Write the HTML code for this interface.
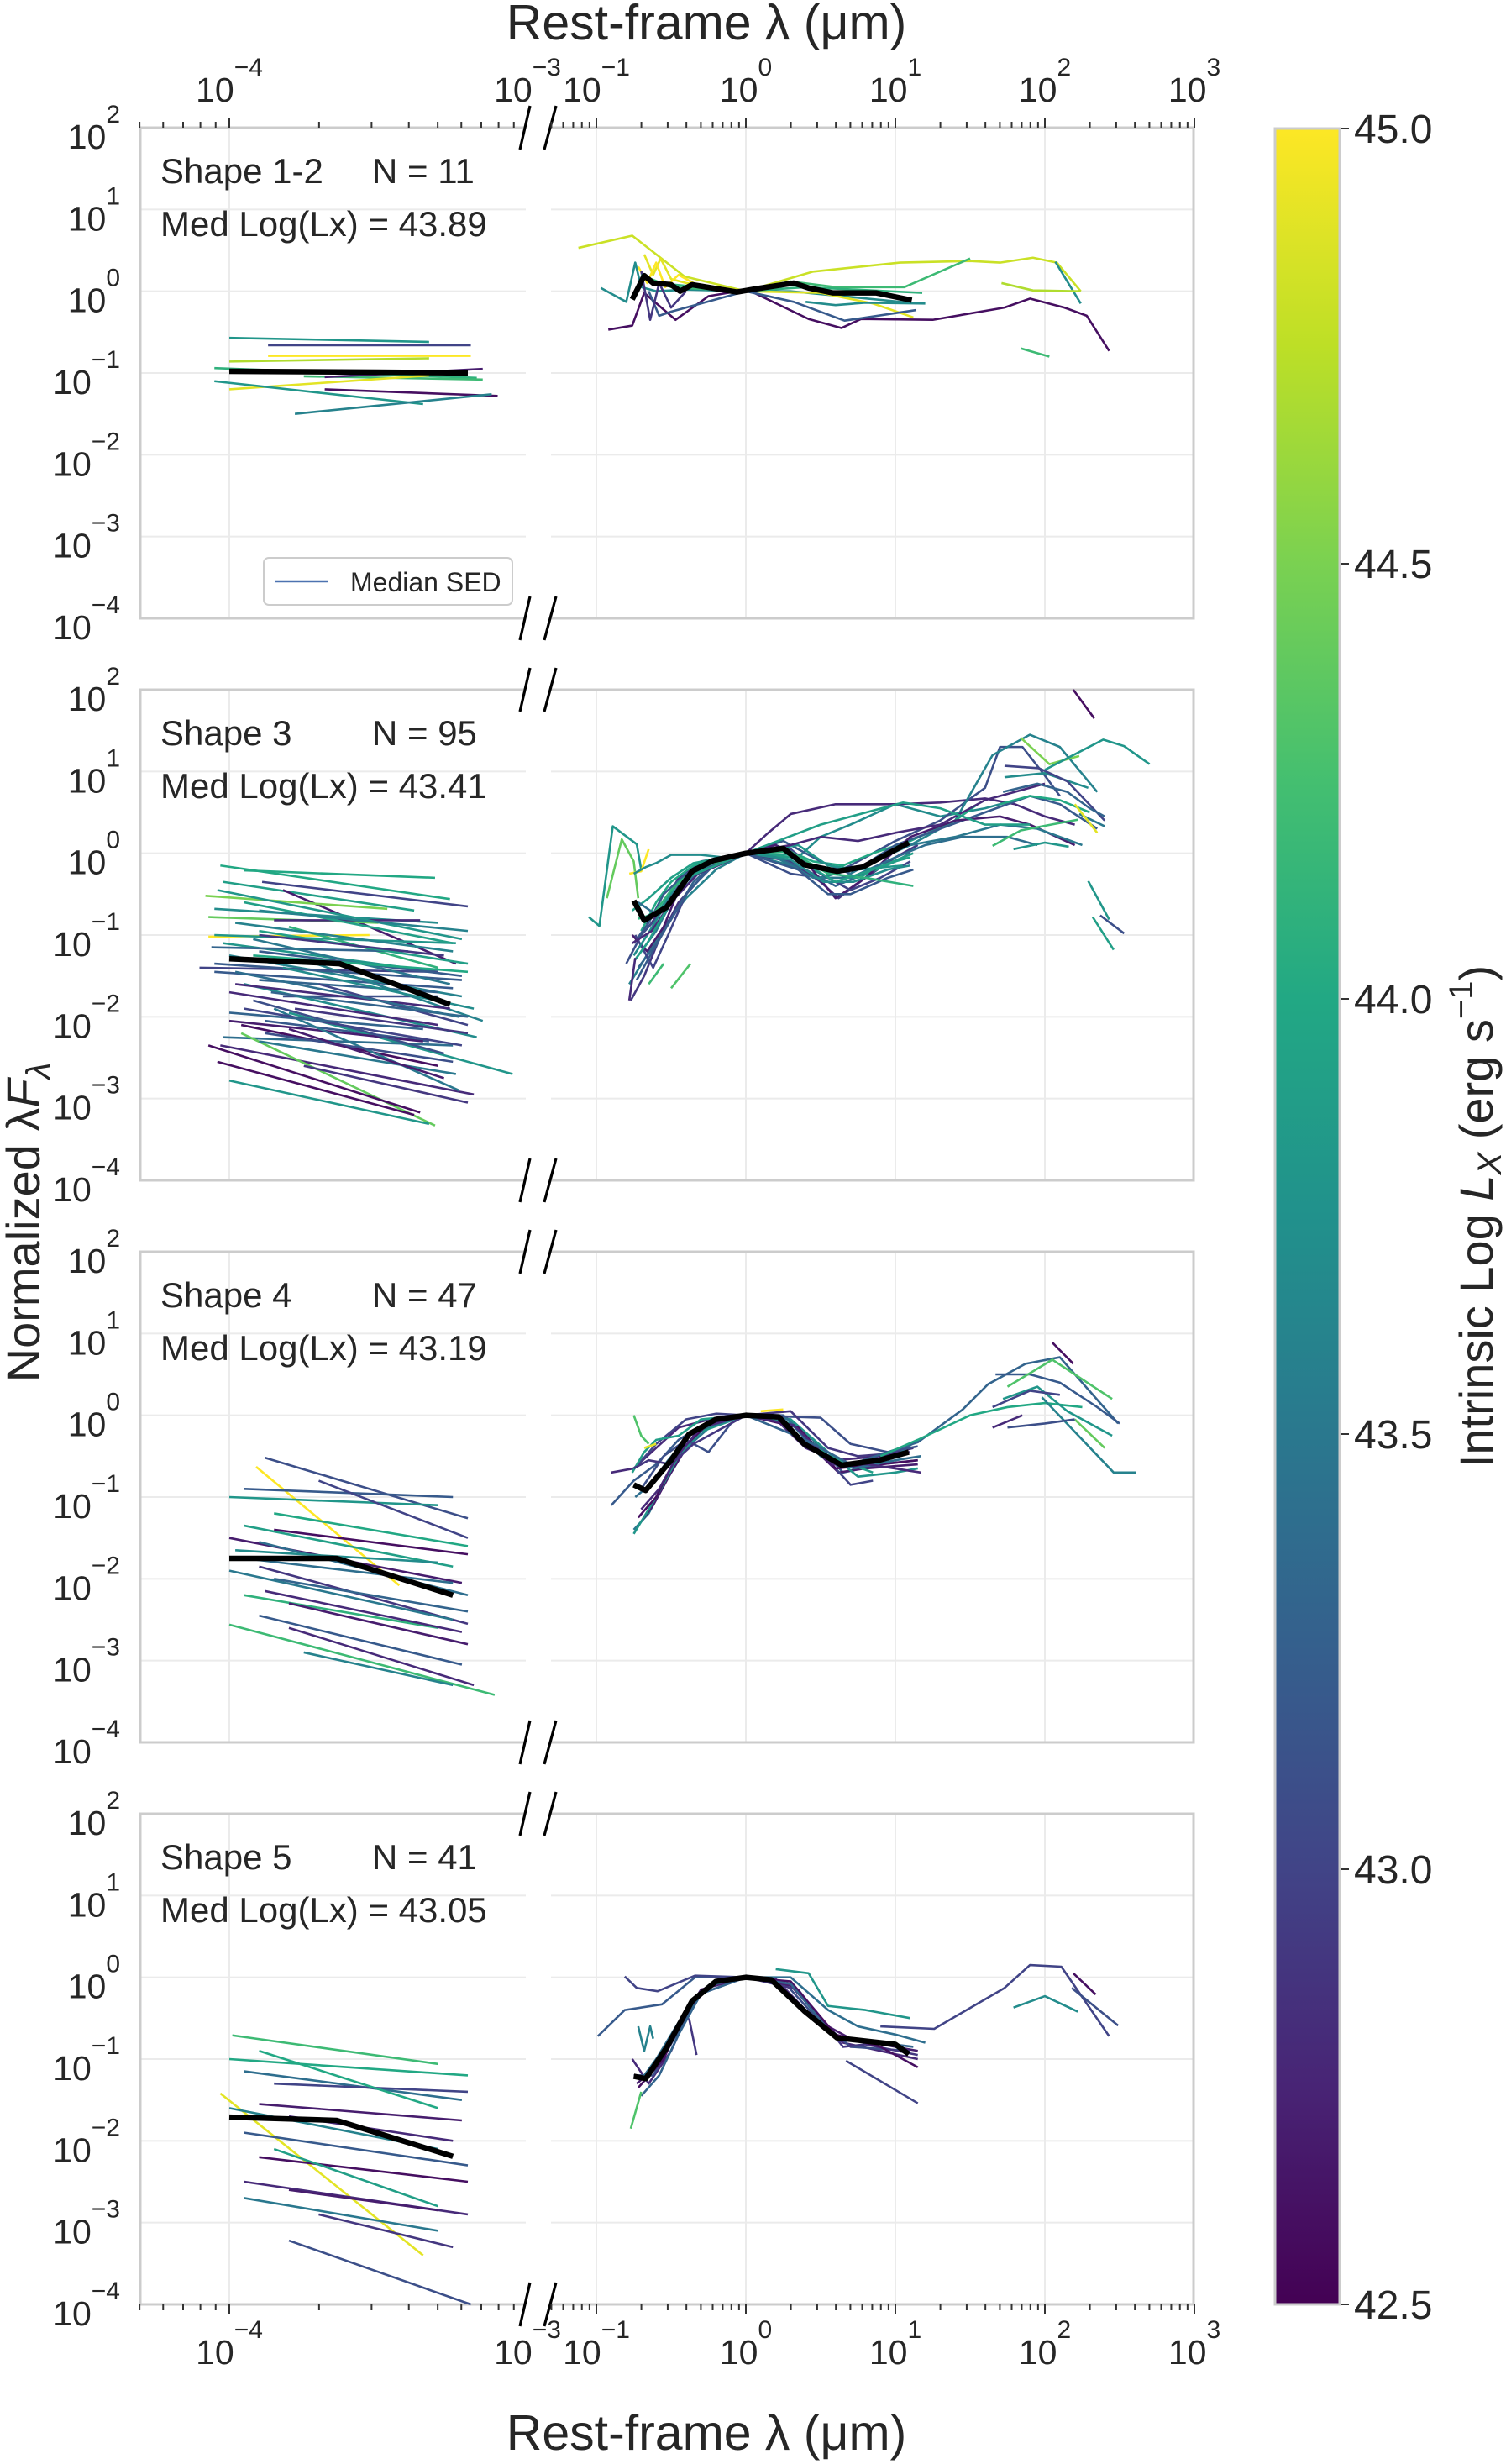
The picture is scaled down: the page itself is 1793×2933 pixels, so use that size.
<!DOCTYPE html>
<html><head><meta charset="utf-8">
<style>
html,body{margin:0;padding:0;background:#fff;}
svg{display:block;font-family:"Liberation Sans",Arial,sans-serif;}
</style></head>
<body>
<svg id="fig" width="1793" height="2933" viewBox="0 0 1793 2933" xmlns="http://www.w3.org/2000/svg">
<defs>
<linearGradient id="vir" x1="0" y1="1" x2="0" y2="0">
<stop offset="0" stop-color="#440154"/><stop offset="0.1" stop-color="#482475"/><stop offset="0.2" stop-color="#414487"/><stop offset="0.3" stop-color="#355f8d"/><stop offset="0.4" stop-color="#2a788e"/><stop offset="0.5" stop-color="#21918c"/><stop offset="0.6" stop-color="#22a884"/><stop offset="0.7" stop-color="#44bf70"/><stop offset="0.8" stop-color="#7ad151"/><stop offset="0.9" stop-color="#bddf26"/><stop offset="1" stop-color="#fde725"/>
</linearGradient>
</defs>
</svg>
<script>
// ---------- data ----------
const panelNames = ["Shape 1-2","Shape 3","Shape 4","Shape 5"];
const panelN = ["N = 11","N = 95","N = 47","N = 41"];
const panelMed = ["Med Log(Lx) = 43.89","Med Log(Lx) = 43.41","Med Log(Lx) = 43.19","Med Log(Lx) = 43.05"];
const yTickExps = [2,1,0,-1,-2,-3,-4];
const xLeftTickExps = [-4,-3];
const xRightTickExps = [-1,0,1,2,3];
const cbarTicks = [45.0,44.5,44.0,43.5,43.0,42.5];

// X-ray segments: [logLx, logλ0, logF0, logλ1, logF1]
const xray1 = [
[43.8,-4.0,-0.57,-3.33,-0.62],[43.0,-3.87,-0.66,-3.19,-0.66],[45.0,-3.87,-0.79,-3.19,-0.79],
[44.7,-4.0,-0.86,-3.33,-0.82],[44.1,-4.05,-0.94,-3.17,-1.06],[44.2,-3.75,-1.04,-3.15,-1.08],
[44.9,-4.0,-1.2,-3.33,-1.03],[42.6,-3.68,-1.2,-3.1,-1.28],[43.8,-4.05,-1.1,-3.35,-1.38],
[43.6,-3.78,-1.5,-3.12,-1.26],[42.7,-3.68,-1.05,-3.15,-0.95]];
const xray2 = [
[44.0,-4.03,-0.15,-3.26,-0.56],[44.0,-3.95,-0.21,-3.31,-0.3],[43.0,-3.89,-0.35,-3.2,-0.65],
[43.9,-4.02,-0.35,-3.38,-0.7],[42.7,-3.82,-0.45,-3.24,-1.35],[44.5,-4.08,-0.52,-3.47,-0.68],
[43.7,-4.05,-0.68,-3.3,-0.85],[44.4,-4.07,-0.78,-3.5,-0.85],[42.8,-3.85,-0.82,-3.36,-0.82],
[45.0,-4.07,-1.02,-3.53,-1.0],[43.8,-4.05,-1.0,-3.24,-1.1],[43.8,-4.02,-1.1,-3.3,-1.45],
[43.0,-4.1,-1.4,-3.3,-1.45],[43.2,-4.05,-1.45,-3.25,-1.65],[43.6,-4.0,-1.25,-3.22,-1.75],
[43.3,-3.9,-1.55,-3.3,-1.7],[43.1,-3.82,-1.75,-3.3,-1.75],[43.7,-3.95,-1.6,-3.17,-2.25],
[42.9,-3.78,-1.9,-3.2,-2.2],[43.2,-3.88,-2.05,-3.33,-2.3],[43.8,-3.8,-1.95,-3.05,-2.7],
[42.7,-4.0,-2.05,-3.35,-2.3],[42.6,-3.96,-2.1,-3.3,-2.6],[43.4,-4.02,-2.25,-3.25,-2.35],
[42.8,-4.03,-2.35,-3.18,-2.95],[44.4,-3.96,-2.2,-3.31,-3.33],[42.6,-4.07,-2.35,-3.36,-3.17],
[42.6,-4.04,-2.55,-3.38,-3.2],[43.8,-4.0,-2.78,-3.33,-3.31],[43.5,-3.85,-1.9,-3.23,-2.9],
[43.6,-3.75,-1.3,-3.15,-2.05],[43.9,-3.95,-0.6,-3.25,-1.1],[43.2,-3.9,-1.2,-3.22,-1.5],
[43.0,-3.7,-1.6,-3.2,-2.1],[43.5,-3.9,-2.3,-3.24,-2.7],[44.1,-3.8,-0.9,-3.3,-1.4],
[43.1,-3.92,-1.8,-3.28,-2.45],[42.9,-3.75,-2.6,-3.2,-3.05],[43.3,-4.06,-1.15,-3.4,-1.2],
[42.8,-3.98,-1.6,-3.26,-1.9],[43.9,-3.9,-0.95,-3.2,-1.35],
[43.2,-4.05,-1.35,-3.22,-1.55],[43.6,-3.98,-0.85,-3.25,-1.2],[42.9,-3.9,-1.0,-3.28,-1.25],
[43.8,-4.04,-0.45,-3.22,-1.05],[43.3,-3.86,-1.7,-3.2,-2.0],[43.0,-3.95,-1.9,-3.22,-2.35],
[43.7,-3.82,-1.4,-3.18,-1.9],[42.8,-4.0,-1.7,-3.3,-2.1],[43.5,-3.92,-1.05,-3.26,-1.6],
[43.1,-3.88,-2.2,-3.25,-2.55],[44.0,-3.92,-1.25,-3.2,-1.45],[43.4,-3.98,-1.45,-3.23,-2.0],
[42.7,-3.8,-2.15,-3.28,-2.75],[43.6,-3.9,-0.7,-3.2,-0.95],[43.3,-4.0,-1.95,-3.35,-2.15]];
const xray3 = [
[43.1,-3.88,-0.52,-3.2,-1.26],[45.0,-3.91,-0.63,-3.43,-2.08],[43.2,-3.95,-0.9,-3.25,-1.0],
[43.8,-4.0,-1.0,-3.3,-1.1],[44.0,-3.85,-1.2,-3.2,-1.6],[43.9,-3.95,-1.35,-3.25,-1.85],
[42.7,-4.0,-1.5,-3.22,-2.05],[43.4,-3.9,-1.55,-3.2,-2.2],[43.7,-3.98,-1.65,-3.3,-1.8],
[42.9,-3.9,-1.85,-3.2,-2.55],[43.3,-3.85,-2.0,-3.2,-2.4],[44.1,-3.95,-2.2,-3.3,-2.6],
[42.7,-3.8,-2.3,-3.2,-2.8],[43.5,-4.0,-1.9,-3.25,-2.5],[43.2,-3.9,-2.45,-3.22,-3.05],
[42.8,-3.8,-2.6,-3.18,-3.3],[44.2,-4.0,-2.56,-3.11,-3.42],[43.6,-3.75,-2.9,-3.25,-3.3],
[42.6,-3.85,-1.4,-3.2,-1.7],[43.0,-3.7,-0.8,-3.2,-1.5],[43.4,-3.95,-1.75,-3.25,-2.05],
[42.8,-3.88,-2.15,-3.22,-2.65]];
const xray4 = [
[44.2,-3.99,-0.71,-3.3,-1.06],[44.0,-4.0,-1.0,-3.2,-1.2],[43.4,-3.95,-1.15,-3.22,-1.5],
[43.0,-3.85,-1.3,-3.2,-1.4],[44.9,-4.03,-1.42,-3.35,-3.4],[42.7,-3.9,-1.55,-3.22,-1.75],
[43.6,-4.0,-1.6,-3.3,-2.1],[42.8,-3.8,-1.7,-3.25,-2.0],[43.2,-3.95,-1.9,-3.2,-2.3],
[42.6,-3.9,-2.2,-3.2,-2.5],[43.9,-3.85,-2.1,-3.3,-2.8],[42.8,-3.95,-2.5,-3.2,-2.9],
[42.7,-3.8,-2.6,-3.3,-2.85],[43.5,-3.95,-2.7,-3.3,-3.1],[43.1,-3.8,-3.22,-3.19,-4.0],
[42.9,-3.7,-2.9,-3.25,-3.3],[44.0,-3.9,-0.9,-3.3,-1.6]];
const xrayMedian = [
[-4.0,-0.98,-3.5,-0.99,-3.2,-1.0],
[-4.0,-1.29,-3.63,-1.35,-3.26,-1.85],
[-4.0,-1.75,-3.64,-1.75,-3.25,-2.2],
[-4.0,-1.71,-3.64,-1.75,-3.25,-2.19]];

// UV-to-FIR SEDs: [logLx, logλ, logF, logλ, logF, ...]
const sed1 = [
[44.8,-1.12,0.53,-0.76,0.68,-0.41,0.18,0,0,0.45,0.24,1.03,0.35,1.5,0.37,1.7,0.35,1.92,0.41,2.08,0.35,2.24,0.0],
[42.6,-0.92,-0.47,-0.76,-0.42,-0.68,-0.02,-0.47,-0.35,-0.25,-0.06,0.01,0.02,0.42,-0.34,0.64,-0.45,0.77,-0.34,1.25,-0.35,1.73,-0.2,1.9,-0.09,2.13,-0.2,2.28,-0.3,2.43,-0.73],
[43.7,-0.97,0.04,-0.8,-0.13,-0.74,0.35,-0.7,0.05,-0.6,0.0,-0.4,0.02,0,0,0.3,0.0,1.15,-0.15],
[44.9,-0.68,0.45,-0.62,0.2,-0.57,0.4,-0.5,0.15,-0.4,0.1,0,0,0.5,-0.02,0.85,-0.15,1.12,-0.32],
[45.0,-0.72,0.3,-0.66,0.1,-0.6,0.35,-0.54,0.05,-0.45,0.2,-0.3,0.05],
[43.2,-0.65,0.0,-0.58,-0.3,-0.5,-0.25,0,0,0.32,-0.13,0.66,-0.36,1.14,-0.23],
[42.9,-0.7,0.25,-0.64,-0.35,-0.58,0.1,-0.5,-0.2,-0.4,0.0],
[44.2,-0.7,0.2,-0.5,0.05,0,0,0.3,0.12,0.6,0.05,1.06,0.05,1.5,0.4],
[44.1,-0.6,0.1,0,0,0.4,0.05,1.18,-0.02],
[43.7,0.4,-0.13,0.6,-0.17,0.8,-0.14,1.2,-0.15],
[44.2,1.84,-0.7,2.03,-0.8],
[43.7,2.07,0.36,2.24,-0.15],
[44.7,1.71,0.1,1.92,0.01,2.24,0.0]];
const sed2 = [
[43.8,-1.05,-0.78,-0.98,-0.89,-0.89,0.33,-0.73,0.11,-0.7,-0.2],
[44.4,-0.93,-0.55,-0.83,0.17,-0.75,-0.1,-0.72,-0.55],
[45.0,-0.78,-0.25,-0.7,-0.22,-0.65,0.05],
[43.7,-0.75,-0.25,-0.67,-0.17,-0.6,-0.12,-0.5,-0.02,-0.3,-0.02,-0.15,-0.05,0,0,0.2,0.05,0.35,-0.05,0.5,0.2,0.7,0.35,1.0,0.6,1.3,0.45,1.6,0.55,1.8,0.65],
[42.8,-0.72,-0.65,-0.65,-0.9,-0.55,-0.65,-0.45,-0.3,-0.3,-0.1,-0.15,-0.05,0,0,0.15,0.25,0.3,0.48,0.6,0.6,1.0,0.6,1.3,0.62,1.6,0.67,1.8,0.6,2.0,0.45,2.2,0.35],
[43.1,-0.8,-1.35,-0.7,-1.0,-0.6,-0.8,-0.45,-0.4,-0.3,-0.15,0,0,0.3,-0.25,0.5,-0.3,0.7,-0.15,1.0,0.15,1.3,0.4,1.6,0.8,1.7,1.3,1.85,1.3,2.0,0.95,2.1,0.7],
[43.6,-0.78,-1.6,-0.68,-1.3,-0.55,-0.9,-0.4,-0.55,-0.2,-0.2,0,0,0.3,-0.15,0.5,-0.3,0.8,-0.15,1.1,0.1,1.4,0.4,1.65,1.2,1.9,1.45,2.1,1.3,2.35,0.75],
[42.9,-0.77,-1.8,-0.68,-1.5,-0.58,-1.05,-0.45,-0.6,-0.25,-0.2,0,0,0.3,-0.1,0.5,-0.35,0.62,-0.55,0.8,-0.3,1.0,-0.05,1.15,0.1],
[43.3,-0.72,-1.4,-0.6,-1.1,-0.5,-0.8,-0.35,-0.35,-0.2,-0.1,0,0,0.2,-0.05,0.4,-0.2,0.6,-0.4,0.8,-0.25,1.0,-0.1,1.1,0.0],
[44.0,-0.7,-0.95,-0.6,-0.6,-0.5,-0.35,-0.35,-0.15,-0.15,-0.05,0,0,0.2,0.1,0.45,-0.1,0.65,-0.15,0.85,0.0,1.1,0.15,1.4,0.4,1.55,0.6],
[43.2,-0.75,-1.1,-0.65,-0.85,-0.55,-0.5,-0.4,-0.25,0,0,0.25,0.15,0.5,-0.1,0.7,-0.25,1.0,0.1,1.3,0.3,1.6,0.5,1.9,0.7,2.1,0.6,2.35,0.3],
[43.9,-0.76,-0.7,-0.65,-0.55,-0.5,-0.3,-0.35,-0.12,0,0,0.3,-0.05,0.55,-0.3,0.75,-0.3,1.0,-0.1,1.1,-0.05],
[42.7,-0.76,-1.0,-0.66,-1.2,-0.55,-0.9,-0.45,-0.45,-0.3,-0.15,0,0,0.2,0.1,0.4,-0.1,0.6,-0.55,0.8,-0.3,1.1,0.2,1.4,0.4,1.7,0.45,1.9,0.35,2.2,0.1],
[43.5,-0.7,-1.2,-0.6,-0.95,-0.5,-0.6,-0.3,-0.2,0,0,0.2,-0.05,0.45,-0.3,0.65,-0.3,0.9,-0.05,1.1,0.1,1.4,0.2,1.7,0.35,1.95,0.3,2.25,0.1],
[43.4,-0.72,-0.6,-0.6,-0.75,-0.5,-0.5,-0.3,-0.2,0,0,0.25,0.05,0.5,-0.2,0.7,-0.3,1.0,-0.05,1.2,0.1,1.45,0.2,1.75,0.2,1.95,0.1],
[43.0,-0.74,-1.0,-0.62,-1.4,-0.52,-1.0,-0.4,-0.5,-0.2,-0.1,0,0,0.3,0.05,0.5,-0.25,0.7,-0.45,0.9,-0.3,1.1,-0.1],
[43.8,-0.7,-0.8,-0.58,-0.7,-0.45,-0.35,-0.25,-0.1,0,0,0.35,0.1,0.55,-0.15,0.75,-0.2,1.05,-0.15],
[43.7,-0.75,-1.25,-0.66,-1.0,-0.56,-0.7,-0.42,-0.35,-0.2,-0.08,0,0,0.3,-0.08,0.52,-0.35,0.72,-0.35,0.95,-0.2,1.1,-0.15],
[43.2,-0.73,-1.55,-0.64,-1.25,-0.53,-0.9,-0.38,-0.45,-0.2,-0.12,0,0,0.35,-0.2,0.55,-0.5,0.7,-0.5,0.95,-0.3,1.12,-0.2],
[44.1,-0.72,-0.8,-0.62,-0.75,-0.5,-0.45,-0.35,-0.2,0,0,0.3,0.02,0.55,-0.25,0.8,-0.3,1.12,-0.4],
[42.8,-0.76,-1.1,-0.63,-0.95,-0.5,-0.6,-0.32,-0.25,0,0,0.3,0.1,0.5,0.2,0.75,0.15,1.0,0.25,1.3,0.35,1.6,0.65,1.8,0.75,2.0,0.85],
[43.9,-0.74,-1.3,-0.66,-1.1,-0.55,-0.75,-0.4,-0.3,0,0,0.3,-0.02,0.6,-0.35,0.85,-0.2,1.12,0.0],
[44.2,-0.65,-1.6,-0.55,-1.35],
[42.8,-0.78,-1.8,-0.74,-1.28],
[44.3,-0.5,-1.65,-0.37,-1.35],
[43.9,0,0,0.5,0.35,1.05,0.62,1.3,0.55,1.6,0.35,1.9,0.35],
[43.8,1.79,0.05,2.0,0.13,2.16,0.08],
[44.2,1.65,0.09,1.84,0.28,2.04,0.35,2.22,0.41],
[43.7,1.73,0.93,2.0,0.98,2.29,0.8],
[43.0,1.73,1.07,1.96,1.04,2.15,0.88,2.4,0.4],
[44.5,1.84,1.41,2.03,1.09,2.23,1.19],
[43.8,2.0,1.02,2.39,1.39,2.53,1.31,2.7,1.09],
[43.5,2.23,0.48,2.4,0.33],
[43.3,1.72,0.75,1.95,0.85,2.15,0.75,2.3,0.55,2.4,0.45],
[44.0,1.7,0.6,1.9,0.7,2.1,0.65,2.3,0.5],
[42.6,2.19,2.0,2.33,1.65],
[43.8,2.29,-0.34,2.43,-0.81],
[43.9,2.32,-0.78,2.46,-1.18],
[43.1,2.37,-0.76,2.53,-0.98],
[44.9,2.2,0.6,2.35,0.25]];
const sed3 = [
[42.8,-0.9,-0.7,-0.75,-0.65,-0.6,-0.4,-0.45,-0.15,-0.2,-0.03,0,0,0.2,-0.05,0.4,-0.4,0.6,-0.55,0.9,-0.5,1.12,-0.4],
[43.2,-0.9,-1.1,-0.75,-0.8,-0.6,-0.6,-0.45,-0.3,-0.25,-0.08,0,0,0.25,0.0,0.45,-0.3,0.65,-0.7,0.9,-0.6,1.15,-0.55],
[43.5,-0.75,-1.4,-0.65,-1.2,-0.55,-0.85,-0.4,-0.4,-0.2,-0.08,0,0,0.3,-0.05,0.5,-0.45,0.7,-0.6,1.0,-0.5,1.15,-0.3],
[42.7,-0.7,-1.3,-0.62,-1.1,-0.5,-0.7,-0.35,-0.25,-0.15,-0.05,0,0,0.25,-0.1,0.45,-0.4,0.62,-0.7,0.8,-0.65,1.15,-0.6],
[43.8,-0.75,-1.45,-0.6,-1.0,-0.45,-0.5,-0.3,-0.2,0,0,0.3,-0.05,0.55,-0.45,0.75,-0.75,1.0,-0.7,1.15,-0.65],
[43.0,-0.72,-0.6,-0.6,-0.35,-0.4,-0.05,-0.2,0.02,0,0,0.3,-0.1,0.5,-0.45,0.7,-0.85,0.85,-0.8],
[44.3,-0.75,0.0,-0.7,-0.25,-0.65,-0.35],
[43.9,-0.76,-0.7,-0.68,-0.45,-0.6,-0.3,-0.45,-0.25,-0.3,-0.05,0,0,0.3,-0.1,0.55,-0.5,0.85,-0.7],
[43.1,-0.7,-0.9,-0.55,-0.5,-0.4,-0.3,-0.25,-0.45,-0.1,-0.1,0,0,0.5,-0.03,0.7,-0.35,0.95,-0.45,1.15,-0.38],
[42.9,-0.75,-0.65,-0.65,-0.55,-0.5,-0.6,-0.35,-0.35,0,0,0.3,0.05,0.55,-0.4,0.75,-0.5,1.1,-0.45],
[42.6,-0.72,-1.25,-0.6,-1.0,-0.45,-0.45,-0.25,-0.1,0,0,0.35,-0.15,0.6,-0.65,0.9,-0.6,1.15,-0.55],
[43.4,-0.74,-1.0,-0.64,-0.85,-0.52,-0.55,-0.36,-0.2,0,0,0.28,-0.05,0.5,-0.5,0.72,-0.65,1.0,-0.55,1.17,-0.5],
[42.8,-0.7,-1.15,-0.58,-0.9,-0.46,-0.5,-0.3,-0.15,0,0,0.32,-0.12,0.58,-0.6,0.82,-0.6,1.17,-0.7],
[44.9,-0.68,-0.4,-0.6,-0.35],
[45.0,0.1,0.05,0.25,0.07],
[43.3,0.0,0.0,0.4,-0.3,0.7,-0.6,0.95,-0.45,1.15,-0.33,1.45,0.07,1.62,0.38,1.87,0.63,2.1,0.71,2.49,-0.1],
[44.0,0.9,-0.5,1.15,-0.3,1.5,0.0,1.75,0.1,2.0,0.15,2.25,0.1],
[43.6,1.98,0.22,2.46,-0.7,2.61,-0.7],
[42.6,2.05,0.89,2.19,0.63],
[43.2,1.67,0.5,1.9,0.5,2.1,0.4,2.35,0.1,2.5,-0.1],
[44.3,1.75,0.35,2.05,0.68,2.45,0.2],
[43.8,1.72,0.2,1.95,0.35,2.15,0.05,2.45,-0.25],
[43.0,1.65,0.1,1.9,0.3,2.1,0.25],
[44.4,2.2,-0.05,2.4,-0.4],
[43.1,1.75,-0.15,2.0,-0.1,2.2,-0.05],
[42.8,1.65,-0.15,1.85,0.0]];
const sed4 = [
[43.2,-0.99,-0.72,-0.81,-0.4,-0.56,-0.33,-0.34,0.0,0,0],
[43.0,-0.81,0.01,-0.73,-0.13,-0.59,-0.17,-0.34,0.02,0,0],
[43.6,-0.72,-0.6,-0.68,-0.9,-0.64,-0.6,-0.62,-0.75],
[42.8,-0.76,-1.0,-0.65,-1.3,-0.5,-0.9,-0.35,-0.3,-0.2,-0.05,0,0,0.2,-0.02,0.4,-0.4,0.65,-0.8,1.15,-1.0],
[43.1,-0.75,-1.2,-0.62,-1.2,-0.48,-0.75,-0.3,-0.2,0,0,0.25,-0.05,0.45,-0.45,0.7,-0.85,1.1,-0.9],
[42.7,-0.73,-1.3,-0.6,-1.1,-0.45,-0.6,-0.3,-0.15,0,0,0.3,-0.1,0.55,-0.6,0.7,-0.75,1.15,-0.9],
[43.4,-0.7,-1.25,-0.6,-1.0,-0.45,-0.55,-0.25,-0.1,0,0,0.3,0.0,0.55,-0.4,0.75,-0.6,1.0,-0.7,1.2,-0.8],
[43.8,0.2,0.1,0.42,0.05,0.55,-0.35,0.8,-0.4,1.1,-0.5],
[42.9,0.0,0.0,0.35,-0.15,0.65,-0.85,0.8,-0.82,1.15,-0.95],
[42.6,-0.72,-1.35,-0.55,-1.0,-0.4,-0.4,-0.2,-0.05,0,0,0.3,-0.05,0.6,-0.7,0.9,-0.85,1.15,-1.1],
[43.3,-0.7,-1.45,-0.58,-1.2,-0.45,-0.7,-0.3,-0.2,0,0,0.3,-0.08,0.6,-0.75,0.9,-0.8,1.12,-0.85],
[44.3,-0.77,-1.85,-0.7,-1.4],
[43.0,0.67,-1.02,1.15,-1.54],
[43.0,0.9,-0.6,1.26,-0.63,1.73,-0.13,1.9,0.15,2.11,0.13,2.43,-0.72],
[43.7,1.79,-0.37,2.0,-0.23,2.22,-0.42],
[42.6,2.19,0.05,2.34,-0.21],
[43.1,2.18,-0.13,2.49,-0.59],
[42.9,-0.38,-0.5,-0.33,-0.95]];
const sedMedian = [
[-0.76,-0.1,-0.68,0.19,-0.62,0.1,-0.5,0.08,-0.44,0,-0.36,0.08,-0.06,-0.01,0.07,0.03,0.32,0.1,0.42,0.04,0.58,-0.02,0.87,-0.02,1.11,-0.11],
[-0.75,-0.58,-0.68,-0.82,-0.53,-0.66,-0.36,-0.22,-0.22,-0.09,0,0,0.25,0.06,0.39,-0.14,0.61,-0.22,0.78,-0.17,1.09,0.13],
[-0.75,-0.85,-0.67,-0.92,-0.5,-0.55,-0.38,-0.23,-0.2,-0.05,0,0,0.22,-0.02,0.39,-0.35,0.64,-0.61,0.89,-0.55,1.09,-0.45],
[-0.75,-1.21,-0.67,-1.24,-0.53,-0.86,-0.36,-0.29,-0.2,-0.05,0,0,0.17,-0.03,0.39,-0.41,0.61,-0.74,1.0,-0.82,1.09,-0.94]];
const xrayAll = [xray1,xray2,xray3,xray4];
const sedAll = [sed1,sed2,sed3,sed4];

// ---------- layout ----------
const NS = "http://www.w3.org/2000/svg";
const svg = document.getElementById('fig');
const TOPS = [152,821,1490,2159], PH = 584, DEC = PH/6;
const LX0 = 167, LX1 = 626, RX0 = 656, RX1 = 1421;
const xL = l => 273 + (l + 4) * 355;
const xR = l => 710 + (l + 1) * 178;
const yF = (t, f) => t + (2 - f) * DEC;
const stops = [[68,1,84],[72,36,117],[65,68,135],[53,95,141],[42,120,142],[33,145,140],[34,168,132],[68,191,112],[122,209,81],[189,223,38],[253,231,37]];
function vir(lx){
  let t = Math.max(0, Math.min(1, (lx - 42.5) / 2.5)) * 10;
  const i = Math.min(9, Math.floor(t)), f = t - i, a = stops[i], b = stops[i+1];
  return 'rgb(' + [0,1,2].map(k => Math.round(a[k] + (b[k]-a[k]) * f)).join(',') + ')';
}
function el(tag, attrs, parent){
  const e = document.createElementNS(NS, tag);
  for (const k in attrs) e.setAttribute(k, attrs[k]);
  (parent || svg).appendChild(e);
  return e;
}
function sciLabel(x, y, exp, anchor, parent){
  const t = el('text', {x:x, y:y, 'text-anchor':anchor, 'font-size':41, fill:'#262626'}, parent);
  t.appendChild(document.createTextNode('10'));
  const s = el('tspan', {dy:-31, 'font-size':30}, t);
  s.textContent = (exp < 0 ? '\u2212' + (-exp) : '' + exp);
  return t;
}

for (let p = 0; p < 4; p++){
  const T = TOPS[p], B = T + PH;
  const g = el('g', {});
  
  
  for (const e of yTickExps){
    const y = yF(T, e);
    el('line', {x1:LX0, x2:LX1, y1:y, y2:y, stroke:'#ebebeb', 'stroke-width':2}, g);
    el('line', {x1:RX0, x2:RX1, y1:y, y2:y, stroke:'#ebebeb', 'stroke-width':2}, g);
  }
  el('line', {x1:xL(-4), x2:xL(-4), y1:T, y2:B, stroke:'#ebebeb', 'stroke-width':2}, g);
  for (const e of xRightTickExps.slice(0,4)){
    el('line', {x1:xR(e), x2:xR(e), y1:T, y2:B, stroke:'#ebebeb', 'stroke-width':2}, g);
  }
  el('path', {d:`M${LX1},${T}H${LX0}V${B}H${LX1}`, fill:'none', stroke:'#cccccc', 'stroke-width':3}, g);
  el('path', {d:`M${RX0},${T}H${RX1}V${B}H${RX0}`, fill:'none', stroke:'#cccccc', 'stroke-width':3}, g);
  for (const e of yTickExps){
    const lab = sciLabel(143, yF(T, e) + 25, e, 'end', g);
    
    
  }
  const sg = el('g', {'stroke-linejoin':'round', 'stroke-linecap':'butt', fill:'none'}, g);
  for (const s of xrayAll[p]){
    const ln = el('polyline', {points:`${xL(s[1])},${yF(T,s[2])} ${xL(s[3])},${yF(T,s[4])}`, stroke:vir(s[0]), 'stroke-width':2.6}, sg);
    
    
  }
  for (const s of sedAll[p]){
    const pts = [];
    for (let i = 1; i < s.length; i += 2) pts.push(xR(s[i]) + ',' + yF(T, s[i+1]));
    const ln = el('polyline', {points:pts.join(' '), stroke:vir(s[0]), 'stroke-width':2.6}, sg);
    
    
  }
  const xm = xrayMedian[p], ptsX = [];
  for (let i = 0; i < xm.length; i += 2) ptsX.push(xL(xm[i]) + ',' + yF(T, xm[i+1]));
  const mx = el('polyline', {points:ptsX.join(' '), stroke:'#000', 'stroke-width':6.5}, sg);
  
  
  const sm = sedMedian[p], ptsS = [];
  for (let i = 0; i < sm.length; i += 2) ptsS.push(xR(sm[i]) + ',' + yF(T, sm[i+1]));
  const ms = el('polyline', {points:ptsS.join(' '), stroke:'#000', 'stroke-width':6.5}, sg);
  
  
  const a1 = el('text', {x:191, y:T+66, 'font-size':42, fill:'#262626'}, g);
  a1.textContent = panelNames[p];
  
  
  const a2 = el('text', {x:443, y:T+66, 'font-size':42, fill:'#262626'}, g);
  a2.textContent = panelN[p];
  
  
  const a3 = el('text', {x:191, y:T+129, 'font-size':42, fill:'#262626'}, g);
  a3.textContent = panelMed[p];
  
  
  for (const yy of [T, B]){
    el('line', {x1:619, y1:yy+26, x2:631, y2:yy-26, stroke:'#000', 'stroke-width':3.2}, g);
    el('line', {x1:648, y1:yy+26, x2:662, y2:yy-26, stroke:'#000', 'stroke-width':3.2}, g);
  }
}

function xAxis(yAxis, dir, labY){
  const g = el('g', {stroke:'#333', 'stroke-width':2});
  
  
  for (let d = -5; d <= -4; d++) for (let m = 1; m <= 9; m++){
    const l = d + Math.log10(m), x = xL(l);
    if (x < LX0 - 1 || x > LX1 + 3) continue;
    const len = m === 1 ? 11 : 7;
    el('line', {x1:x, x2:x, y1:yAxis, y2:yAxis + dir*len}, g);
  }
  for (let d = -2; d <= 3; d++) for (let m = 1; m <= 9; m++){
    const l = d + Math.log10(m), x = xR(l);
    if (x < RX0 || x > RX1 + 1) continue;
    const len = m === 1 ? 11 : 7;
    el('line', {x1:x, x2:x, y1:yAxis, y2:yAxis + dir*len}, g);
  }
  for (const e of xLeftTickExps){
    const t = sciLabel(xL(e), labY, e, 'middle');
    
    
  }
  for (const e of xRightTickExps){
    const t = sciLabel(xR(e), labY, e, 'middle');
    
    
  }
}
xAxis(TOPS[0], -1, 121);
xAxis(TOPS[3] + PH, 1, 2814);

const lg = el('g', {});


el('rect', {x:314, y:664, width:296, height:56, rx:6, fill:'#fff', 'fill-opacity':0.85, stroke:'#cccccc', 'stroke-width':2}, lg);
el('line', {x1:327, x2:391, y1:692, y2:692, stroke:'#4c72b0', 'stroke-width':2.6}, lg);
const lt = el('text', {x:417, y:704, 'font-size':32, fill:'#262626'}, lg);
lt.textContent = 'Median SED';



const cb = el('g', {});


el('rect', {x:1518, y:153, width:77, height:2590, fill:'url(#vir)', stroke:'#cccccc', 'stroke-width':3}, cb);
for (const v of cbarTicks){
  const y = 153 + (45 - v) / 2.5 * 2590;
  el('line', {x1:1596, x2:1606, y1:y, y2:y, stroke:'#333', 'stroke-width':2}, cb);
  const t = el('text', {x:1612, y:y + 17, 'font-size':48, fill:'#262626'}, cb);
  t.textContent = v.toFixed(1);
  
  
}
</script>
<script>
(function(){
  const svg = document.getElementById('fig');
  const NS = "http://www.w3.org/2000/svg";
  function txt(attrs, content, name){
    const t = document.createElementNS(NS, 'text');
    for (const k in attrs) t.setAttribute(k, attrs[k]);
    t.innerHTML = content;
    
    
    svg.appendChild(t);
  }
  txt({x:841, y:47, 'text-anchor':'middle', 'font-size':59, fill:'#262626'}, 'Rest-frame λ (μm)', 'top-x-axis-title');
  txt({x:841, y:2916, 'text-anchor':'middle', 'font-size':59, fill:'#262626'}, 'Rest-frame λ (μm)', 'bottom-x-axis-title');
  txt({x:0, y:0, 'text-anchor':'middle', 'font-size':56, fill:'#262626', transform:'translate(47,1455) rotate(-90)'},
      'Normalized λ<tspan font-style="italic">F</tspan><tspan font-style="italic" font-size="40" dy="12">λ</tspan>', 'y-axis-title');
  txt({x:0, y:0, 'text-anchor':'middle', 'font-size':56, fill:'#262626', transform:'translate(1777,1448) rotate(-90)'},
      'Intrinsic Log <tspan font-style="italic">L</tspan><tspan font-style="italic" font-size="40" dy="10">X</tspan><tspan dy="-10"> (erg s</tspan><tspan font-size="40" dy="-24">−1</tspan><tspan dy="24">)</tspan>', 'colorbar-title');
})();
</script>
</body></html>
